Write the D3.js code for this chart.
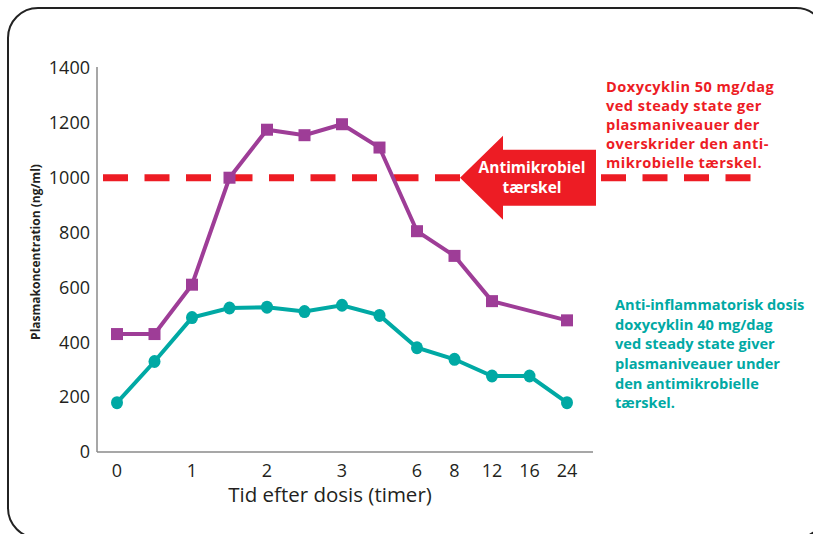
<!DOCTYPE html>
<html>
<head>
<meta charset="utf-8">
<script src="https://cdn.jsdelivr.net/npm/d3@7"></script>
<style>
  body { margin: 0; background: #fff; }
  svg { display: block; font-family: "Open Sans", sans-serif; }
</style>
</head>
<body>
<div id="chart"></div>
<script>
// time points (hours) - the slots between labelled hours carry no label
var times = ["0", "0.5", "1", "1.5", "2", "2.5", "3", "4", "6", "8", "12", "16", "24"];
var tickLabels = ["0", "1", "2", "3", "6", "8", "12", "16", "24"];
var yTicks = [0, 200, 400, 600, 800, 1000, 1200, 1400];

// doxycyklin 50 mg/dag (purple) and 40 mg/dag (teal)
var dose50 = [430, 430, 610, 1000, 1175, 1155, 1195, 1110, 805, 715, 550, null, 480];
var dose40 = [180, 330, 490, 525, 528, 512, 535, 498, 380, 338, 277, 277, 180];
var threshold = 1000;

var redText = ["Doxycyklin 50 mg/dag", "ved steady state ger", "plasmaniveauer der",
  "overskrider den anti-", "mikrobielle tærskel."];
var tealText = ["Anti-inflammatorisk dosis", "doxycyklin 40 mg/dag", "ved steady state giver",
  "plasmaniveauer under", "den antimikrobielle", "tærskel."];
var arrowText = ["Antimikrobiel", "tærskel"];

var width = 813, height = 534;
var purple = "#9e3d97", teal = "#00a9a4", red = "#ed1c24";

var svg = d3.select("#chart").append("svg")
  .attr("width", width)
  .attr("height", height);

// rounded frame, partly running off the page
svg.append("rect")
  .attr("x", 8).attr("y", 8)
  .attr("width", 818).attr("height", 530)
  .attr("rx", 30).attr("ry", 30)
  .attr("fill", "none")
  .attr("stroke", "#222")
  .attr("stroke-width", 2);

var x = d3.scalePoint().domain(times).range([117, 567]);
var y = d3.scaleLinear().domain([0, 1400]).range([452, 68]);

// axes
svg.append("line")
  .attr("x1", 97).attr("x2", 97)
  .attr("y1", y(1400) - 1).attr("y2", y(0))
  .attr("stroke", "#8a8a8a").attr("stroke-width", 1.5);
svg.append("line")
  .attr("x1", 97).attr("x2", 593)
  .attr("y1", y(0)).attr("y2", y(0))
  .attr("stroke", "#8a8a8a").attr("stroke-width", 1.5);

svg.selectAll(".ylab")
  .data(yTicks)
  .enter().append("text")
  .attr("class", "ylab")
  .attr("x", 90)
  .attr("y", function(d) { return y(d); })
  .attr("dy", "0.35em")
  .attr("text-anchor", "end")
  .attr("font-size", 18)
  .attr("fill", "#231f20")
  .text(function(d) { return d; });

var labelled = times.filter(function(t) { return tickLabels.indexOf(t) >= 0; });
svg.selectAll(".xlab")
  .data(labelled)
  .enter().append("text")
  .attr("class", "xlab")
  .attr("x", function(d) { return x(d); })
  .attr("y", 471)
  .attr("dy", "0.35em")
  .attr("text-anchor", "middle")
  .attr("font-size", 18)
  .attr("fill", "#231f20")
  .text(function(d) { return d; });

svg.append("text")
  .attr("x", 330).attr("y", 495)
  .attr("dy", "0.35em")
  .attr("text-anchor", "middle")
  .attr("font-size", 20.5)
  .attr("fill", "#231f20")
  .text("Tid efter dosis (timer)");

svg.append("text")
  .attr("transform", "translate(36,252) rotate(-90)")
  .attr("dy", "0.35em")
  .attr("text-anchor", "middle")
  .attr("font-size", 12)
  .attr("font-weight", "bold")
  .attr("fill", "#231f20")
  .text("Plasmakoncentration (ng/ml)");

// threshold line
svg.append("line")
  .attr("x1", 103).attr("x2", 751)
  .attr("y1", y(threshold)).attr("y2", y(threshold))
  .attr("stroke", red)
  .attr("stroke-width", 7)
  .attr("stroke-dasharray", "25 16.5");

// series
var line = d3.line()
  .x(function(d) { return x(d.t); })
  .y(function(d) { return y(d.v); });

var s50 = times.map(function(t, i) { return {t: t, v: dose50[i]}; })
  .filter(function(d) { return d.v != null; });
var s40 = times.map(function(t, i) { return {t: t, v: dose40[i]}; });

svg.append("path")
  .datum(s50)
  .attr("d", line)
  .attr("fill", "none")
  .attr("stroke", purple)
  .attr("stroke-width", 4);

svg.selectAll(".sq")
  .data(s50)
  .enter().append("rect")
  .attr("class", "sq")
  .attr("x", function(d) { return x(d.t) - 6; })
  .attr("y", function(d) { return y(d.v) - 6; })
  .attr("width", 12).attr("height", 12)
  .attr("fill", purple);

svg.append("path")
  .datum(s40)
  .attr("d", line)
  .attr("fill", "none")
  .attr("stroke", teal)
  .attr("stroke-width", 4);

svg.selectAll(".dot")
  .data(s40)
  .enter().append("ellipse")
  .attr("class", "dot")
  .attr("cx", function(d) { return x(d.t); })
  .attr("cy", function(d) { return y(d.v); })
  .attr("rx", 6).attr("ry", 6.5)
  .attr("fill", teal);

// arrow pointing at the threshold
var ty = y(threshold);
svg.append("path")
  .attr("d", "M460," + ty + "L503," + (ty - 42) + "L503," + (ty - 28) +
    "L596," + (ty - 28) + "L596," + (ty + 28) + "L503," + (ty + 28) +
    "L503," + (ty + 42) + "Z")
  .attr("fill", red);

// multi-line text block as one text element
var block = function(lines, x0, y0, step, size, color, anchor, spacing) {
  var t = svg.append("text")
    .attr("x", x0).attr("y", y0)
    .attr("font-size", size)
    .attr("font-weight", "bold")
    .attr("text-anchor", anchor)
    .attr("letter-spacing", spacing || 0)
    .attr("fill", color);
  t.selectAll("tspan")
    .data(lines)
    .enter().append("tspan")
    .attr("x", x0)
    .attr("y", function(d, i) { return y0 + i * step; })
    .attr("dy", "0.35em")
    .text(function(d) { return d; });
};

block(arrowText, 532, 168, 20, 15.5, "#fff", "middle");
block(redText, 606, 87, 18.9, 14.6, red, "start", 0.45);
block(tealText, 615, 305, 19.6, 14.6, teal, "start");
</script>
</body>
</html>
